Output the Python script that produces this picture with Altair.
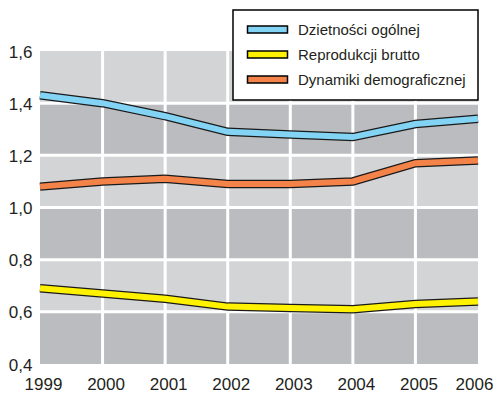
import altair as alt
import pandas as pd

# ---- data ----
years = [1999, 2000, 2001, 2002, 2003, 2004, 2005, 2006]
series_names = ["Dzietności ogólnej", "Reprodukcji brutto", "Dynamiki demograficznej"]
dzietnosci = [1.43, 1.40, 1.35, 1.29, 1.28, 1.27, 1.32, 1.34]
reprodukcji = [0.69, 0.67, 0.65, 0.62, 0.615, 0.61, 0.63, 0.64]
dynamiki = [1.08, 1.10, 1.11, 1.09, 1.09, 1.10, 1.17, 1.18]

y_ticks = [0.4, 0.6, 0.8, 1.0, 1.2, 1.4, 1.6]
band_lo = [0.4, 0.6, 0.8, 1.0, 1.2, 1.4]
band_hi = [0.6, 0.8, 1.0, 1.2, 1.4, 1.6]
band_shade = ["dark", "light", "dark", "light", "dark", "light"]
grid_years = [2000, 2001, 2002, 2003, 2004, 2005]
grid_values = [0.6, 0.8, 1.0, 1.2, 1.4]

colors = ["#82d3f4", "#fff200", "#f4834a"]
FONT = "Liberation Sans Narrow, Arial Narrow, Liberation Sans, Arial, sans-serif"
TXT = "#231f20"

rows = []
for name, vals in zip(series_names, [dzietnosci, reprodukcji, dynamiki]):
    for yr, v in zip(years, vals):
        rows.append({"year": yr, "value": v, "series": name})
lines_df = pd.DataFrame(rows)

bands_df = pd.DataFrame({"lo": band_lo, "hi": band_hi, "shade": band_shade,
                         "x0": [years[0]] * len(band_lo), "x1": [years[-1]] * len(band_lo)})
vgrid_df = pd.DataFrame({"year": grid_years})
hgrid_df = pd.DataFrame({"value": grid_values})

x_scale = alt.Scale(domain=[years[0], years[-1]], nice=False, zero=False)
y_scale = alt.Scale(domain=[y_ticks[0], y_ticks[-1]], nice=False, zero=False)

x_axis = alt.Axis(values=years, format="d", title=None, domain=False, ticks=False, grid=False,
                  labelFont=FONT, labelFontSize=17, labelColor=TXT, labelPadding=12,
                  labelFlush=False,
                  labelOffset={"condition": {"test": "datum.value == 2006", "value": -4}, "value": 3})
y_axis = alt.Axis(values=y_ticks, title=None, domain=False, ticks=False, grid=False,
                  labelExpr="replace(format(datum.value, '.1f'), '.', ',')",
                  labelFont=FONT, labelFontSize=17, labelColor=TXT, labelPadding=8,
                  labelFlush=False, labelBaseline="middle", labelOffset=1)

bands = alt.Chart(bands_df).mark_rect().encode(
    x=alt.X("x0:Q", scale=x_scale, axis=x_axis),
    x2="x1:Q",
    y=alt.Y("lo:Q", scale=y_scale, axis=y_axis),
    y2="hi:Q",
    color=alt.Color("shade:N", scale=alt.Scale(domain=["dark", "light"], range=["#bbbcbf", "#d3d4d6"]),
                    legend=None),
)

vgrid = alt.Chart(vgrid_df).mark_rule(color="white", strokeWidth=3).encode(
    x=alt.X("year:Q", scale=x_scale, axis=x_axis)
)
hgrid = alt.Chart(hgrid_df).mark_rule(color="white", strokeWidth=3).encode(
    y=alt.Y("value:Q", scale=y_scale, axis=y_axis)
)

outline = alt.Chart(lines_df).mark_line(strokeWidth=8.5, color="#1a1a1a", strokeCap="butt",
                                        strokeJoin="miter").encode(
    x=alt.X("year:Q", scale=x_scale, axis=x_axis),
    y=alt.Y("value:Q", scale=y_scale, axis=y_axis),
    detail="series:N",
)

# line colours: data-driven domain (sorted in legend order)
colored = alt.Chart(lines_df).mark_line(strokeWidth=6, strokeCap="butt", strokeJoin="miter").encode(
    x=alt.X("year:Q", scale=x_scale, axis=x_axis),
    y=alt.Y("value:Q", scale=y_scale, axis=y_axis),
    stroke=alt.Stroke("series:N", scale=alt.Scale(range=colors), sort=series_names, legend=None),
)

legend = alt.Legend(
    title=None, orient="none", legendX=193, legendY=-41,
    symbolType="M-1,-0.72H7V0.72H-1Z", symbolSize=100,
    symbolStrokeColor="black", symbolStrokeWidth=1.5, symbolOpacity=1,
    labelFont=FONT, labelFontSize=15, labelColor=TXT, labelOffset=38, labelLimit=400,
    fillColor="white", strokeColor="black", padding=12, rowPadding=9,
)

legend_layer = alt.Chart(lines_df).mark_point(filled=True, size=0, opacity=0).encode(
    x=alt.X("year:Q", scale=x_scale, axis=x_axis),
    y=alt.Y("value:Q", scale=y_scale, axis=y_axis),
    fill=alt.Fill("series:N", scale=alt.Scale(domain=series_names, range=colors),
                  sort=series_names, legend=legend),
)

chart = alt.layer(bands, vgrid, hgrid, outline, colored, legend_layer).properties(
    width=438, height=313,
    autosize=alt.AutoSizeParams(type="none"),
    padding={"left": 32, "top": 43, "right": 15, "bottom": 35},
    background="white",
).configure_view(stroke=None).configure_legend(strokeWidth=1.5)

chart.save("out.html", embed_options={"renderer": "svg", "actions": False})
